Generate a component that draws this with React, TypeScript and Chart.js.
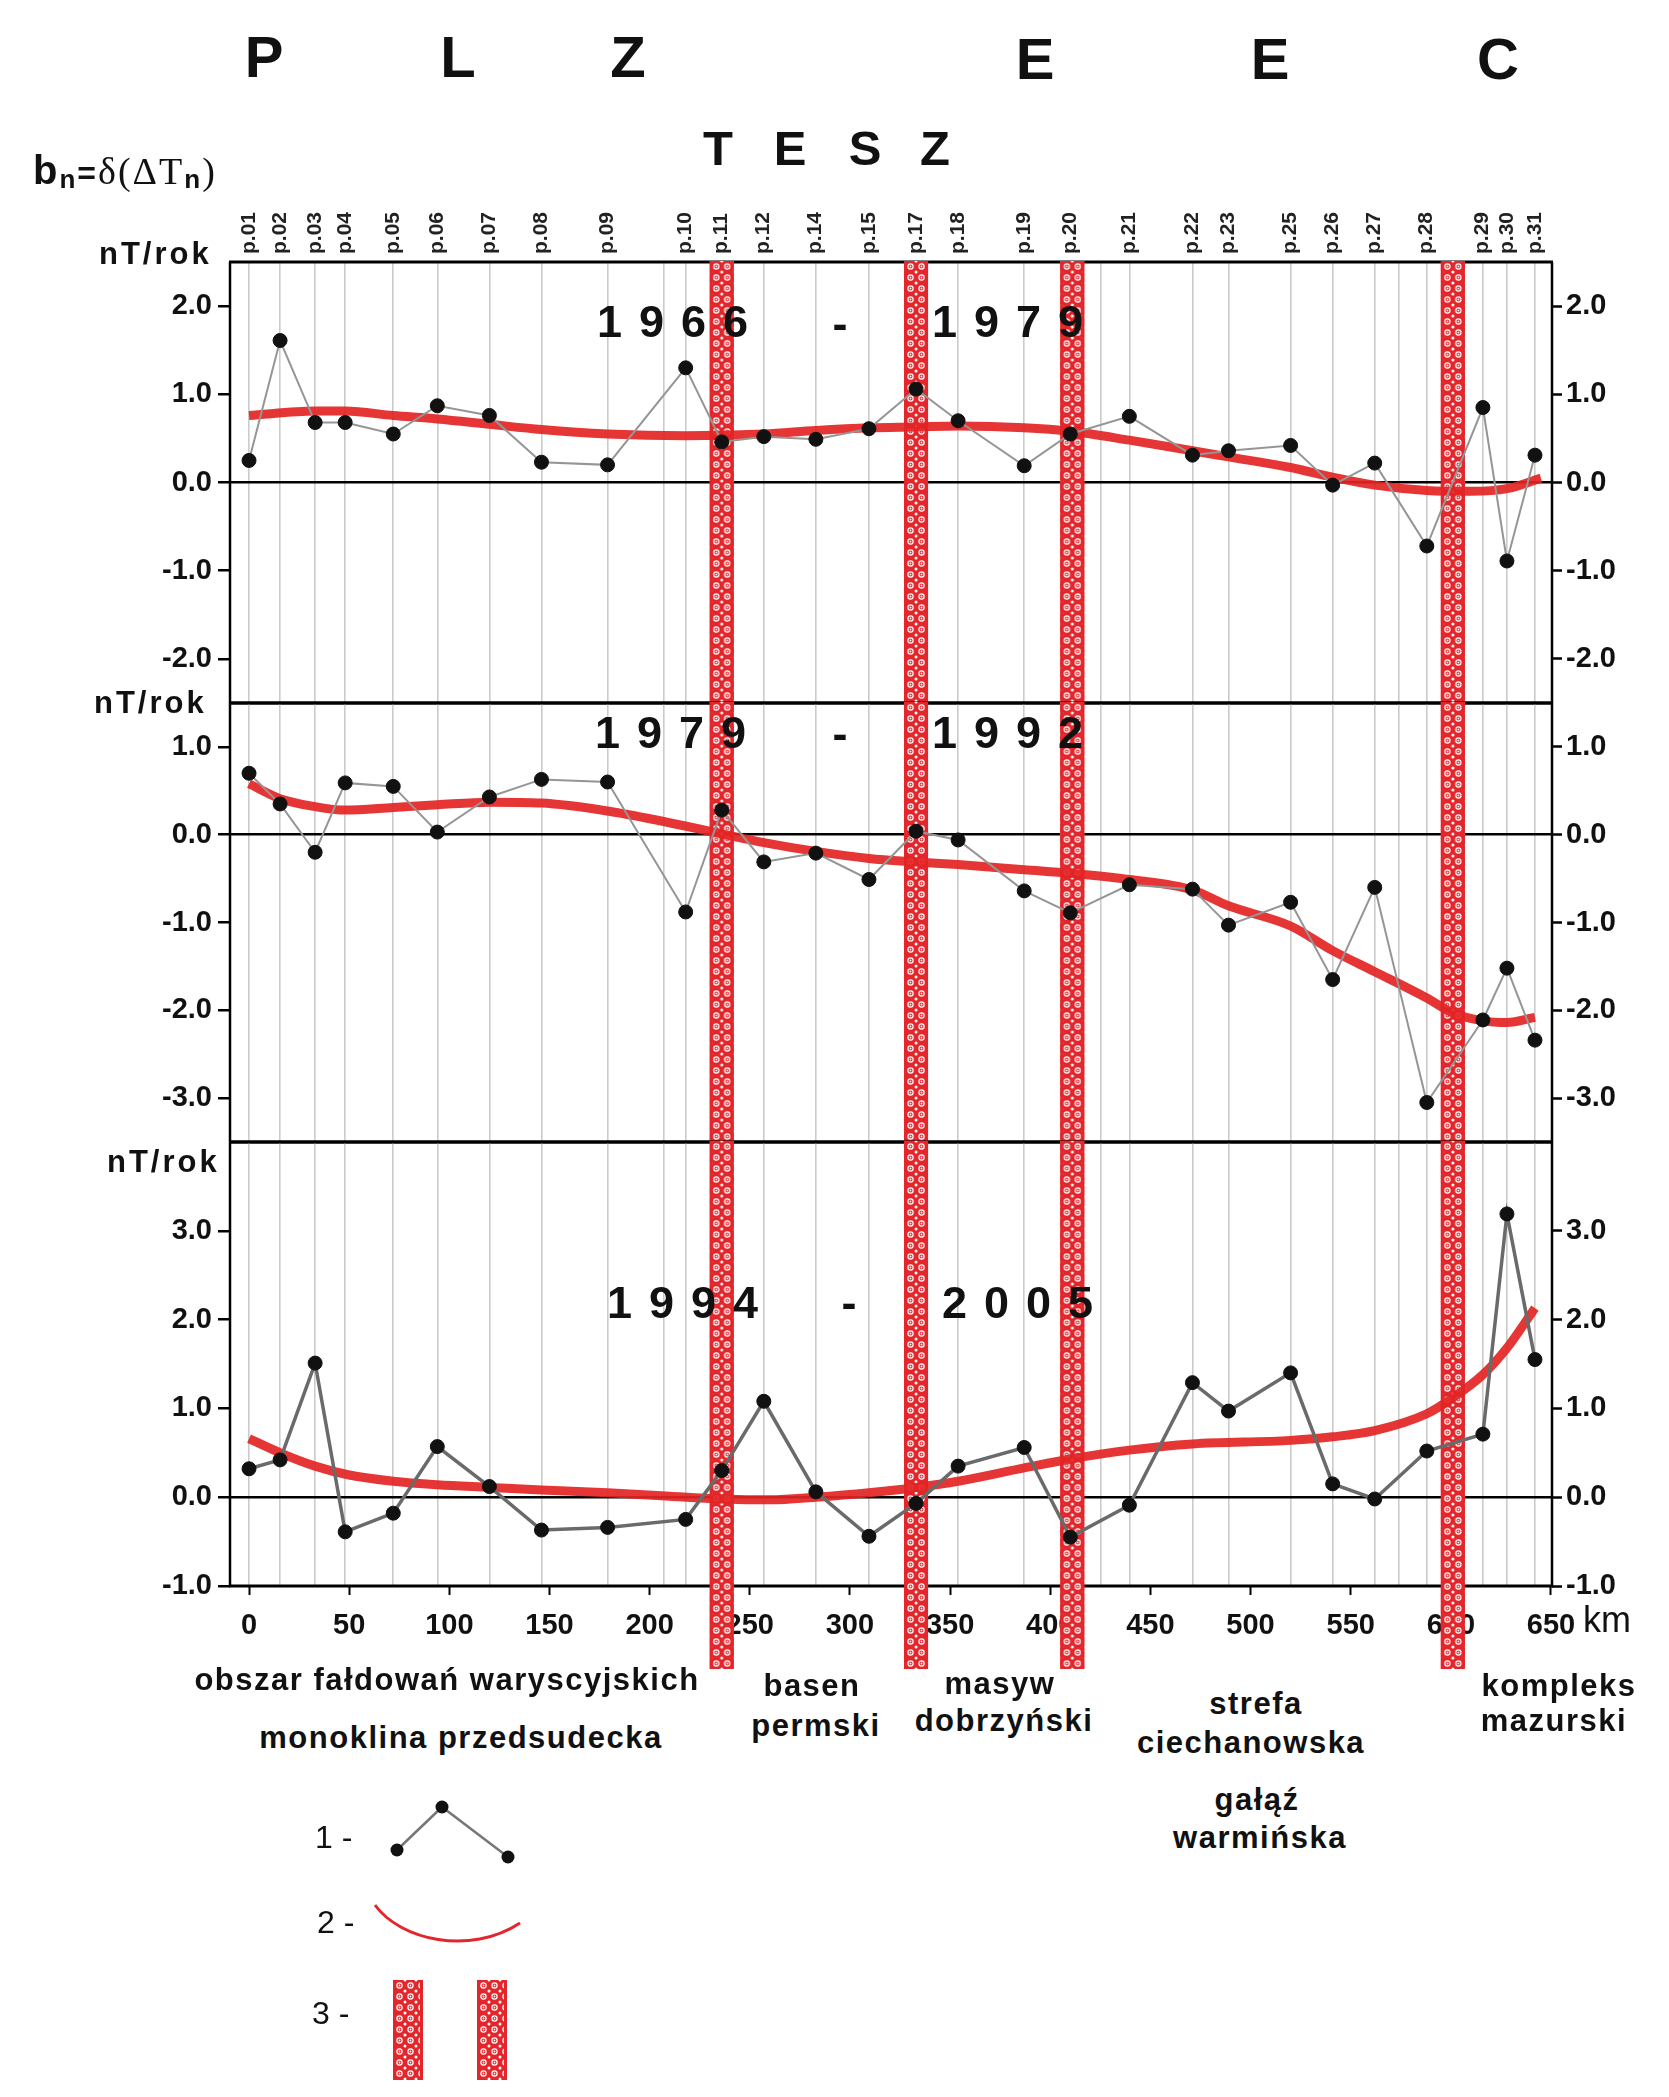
import React, { useEffect, useRef } from 'react';
import { Chart, registerables } from 'chart.js';

Chart.register(...registerables);

const FONT = "'Liberation Sans', Arial, Helvetica, sans-serif";
const SERIF = "'Liberation Serif', 'Times New Roman', serif";
const PAGE_W = 1669;
const PAGE_H = 2097;
const RED = '#e3262b';

// ---------------- data ----------------
const stationNames = ['p.01', 'p.02', 'p.03', 'p.04', 'p.05', 'p.06', 'p.07', 'p.08', 'p.09', 'p.10', 'p.11', 'p.12', 'p.14', 'p.15', 'p.17', 'p.18', 'p.19', 'p.20', 'p.21', 'p.22', 'p.23', 'p.25', 'p.26', 'p.27', 'p.28', 'p.29', 'p.30', 'p.31'];
const stationKm = [0, 15.5, 33, 48, 72, 94, 120, 146, 179, 218, 236, 257, 283, 309.5, 333, 354, 387, 410, 439.5, 471, 489, 520, 541, 562, 588, 616, 628, 642];
const extraGridKm = [207, 425, 574];
const kmTicks = [0, 50, 100, 150, 200, 250, 300, 350, 400, 450, 500, 550, 600, 650];
const bandKm = [236, 333, 411, 601];

const valuesA = [0.25, 1.61, 0.68, 0.68, 0.55, 0.87, 0.76, 0.23, 0.2, 1.3, 0.46, 0.52, 0.49, 0.61, 1.06, 0.7, 0.19, 0.55, 0.75, 0.31, 0.36, 0.42, -0.03, 0.22, -0.72, 0.85, -0.89, 0.31];
const valuesB = [0.7, 0.35, -0.2, 0.59, 0.55, 0.03, 0.43, 0.63, 0.6, -0.88, 0.28, -0.31, -0.21, -0.51, 0.04, -0.06, -0.64, -0.89, -0.57, -0.62, -1.03, -0.77, -1.65, -0.6, -3.05, -2.11, -1.52, -2.34];
const valuesC = [0.32, 0.42, 1.51, -0.39, -0.18, 0.57, 0.12, -0.37, -0.34, -0.25, 0.3, 1.08, 0.06, -0.44, -0.07, 0.35, 0.56, -0.45, -0.09, 1.29, 0.97, 1.4, 0.15, -0.02, 0.52, 0.71, 3.19, 1.55];

const trendKmA = [0, 33, 48, 72, 94, 120, 146, 179, 218, 257, 283, 309.5, 333, 354, 387, 410, 439.5, 471, 489, 520, 541, 562, 588, 610, 628, 645];
const trendA = [0.76, 0.81, 0.81, 0.76, 0.72, 0.66, 0.6, 0.55, 0.53, 0.55, 0.59, 0.62, 0.63, 0.64, 0.62, 0.58, 0.48, 0.36, 0.29, 0.17, 0.06, -0.03, -0.09, -0.1, -0.07, 0.05];

const trendKmB = [0, 15.5, 33, 48, 72, 94, 120, 146, 179, 207, 236, 257, 283, 309.5, 333, 354, 387, 410, 439.5, 471, 489, 520, 541, 562, 588, 601, 616, 628, 642];
const trendB = [0.58, 0.41, 0.32, 0.28, 0.31, 0.34, 0.37, 0.36, 0.27, 0.15, 0.01, -0.09, -0.19, -0.27, -0.31, -0.34, -0.4, -0.44, -0.51, -0.63, -0.81, -1.04, -1.32, -1.56, -1.86, -2.03, -2.12, -2.14, -2.08];

const trendKmC = [0, 15.5, 33, 50, 72, 94, 120, 146, 179, 210, 236, 260, 283, 309.5, 333, 354, 387, 410, 439.5, 471, 520, 541, 562, 588, 601, 616, 628, 642];
const trendC = [0.66, 0.5, 0.35, 0.25, 0.18, 0.14, 0.11, 0.08, 0.05, 0.01, -0.02, -0.03, 0.0, 0.05, 0.11, 0.18, 0.33, 0.43, 0.53, 0.6, 0.64, 0.68, 0.75, 0.94, 1.12, 1.38, 1.68, 2.13];

const ticksA = [-2, -1, 0, 1, 2];
const ticksB = [-3, -2, -1, 0, 1];
const ticksC = [-1, 0, 1, 2, 3];

// ---------------- helpers ----------------
const X_MIN = -9.5;
const X_MAX = 650.5;
const BAND_HALF_KM = 6;

function makeBandPattern(ctx: CanvasRenderingContext2D) {
  const c = document.createElement('canvas');
  c.width = 11;
  c.height = 11;
  const g = c.getContext('2d')!;
  g.fillStyle = RED;
  g.fillRect(0, 0, 11, 11);
  g.strokeStyle = '#ffffff';
  g.fillStyle = '#ffffff';
  g.lineWidth = 1.2;
  g.beginPath();
  g.arc(5.5, 5.5, 2.6, 0, Math.PI * 2);
  g.stroke();
  g.beginPath();
  g.arc(5.5, 5.5, 0.9, 0, Math.PI * 2);
  g.fill();
  for (const [cx, cy] of [[0, 0], [11, 0], [0, 11], [11, 11]]) {
    g.beginPath();
    g.arc(cx, cy, 1.5, 0, Math.PI * 2);
    g.fill();
  }
  return ctx.createPattern(c, 'repeat')!;
}

function drawBand(ctx: CanvasRenderingContext2D, x0: number, x1: number, y0: number, y1: number) {
  const pat = makeBandPattern(ctx);
  ctx.save();
  ctx.translate(x0 + 1, y0);
  ctx.fillStyle = pat;
  ctx.fillRect(-1, 0, x1 - x0, y1 - y0);
  ctx.restore();
  ctx.fillStyle = RED;
  ctx.fillRect(x0, y0, 3, y1 - y0);
  ctx.fillRect(x1 - 3, y0, 3, y1 - y0);
}

const frameBandsPlugin = {
  id: 'frameBands',
  beforeDatasetsDraw(chart: any, _args: any, opts: any) {
    const { ctx, chartArea: a } = chart;
    const xs = chart.scales.x;
    ctx.save();
    ctx.strokeStyle = '#000';
    ctx.lineWidth = 3;
    ctx.beginPath();
    ctx.moveTo(a.left - 1, a.top);
    ctx.lineTo(a.right + 1, a.top);
    ctx.moveTo(a.left - 1, a.bottom);
    ctx.lineTo(a.right + 1, a.bottom);
    ctx.stroke();
    ctx.lineWidth = 2.5;
    ctx.beginPath();
    ctx.moveTo(a.left, a.top);
    ctx.lineTo(a.left, a.bottom);
    ctx.moveTo(a.right, a.top);
    ctx.lineTo(a.right, a.bottom);
    ctx.stroke();
    const extend = (opts && opts.extend) || 0;
    for (const km of bandKm) {
      const x0 = xs.getPixelForValue(km - BAND_HALF_KM);
      const x1 = xs.getPixelForValue(km + BAND_HALF_KM);
      drawBand(ctx, x0, x1, a.top - 1, a.bottom + extend);
    }
    ctx.restore();
  },
};

interface PanelSpec {
  top: number;
  height: number;
  padTop: number;
  padBottom: number;
  stationAxisH: number;
  showStations: boolean;
  showKm: boolean;
  bandExtend: number;
  yMin: number;
  yMax: number;
  yTicks: number[];
  values: number[];
  trendKm: number[];
  trend: number[];
  lineColor: string;
  lineWidth: number;
}

function buildConfig(p: PanelSpec): any {
  const tickFont = { family: FONT, size: 29, weight: 'bold' as const };
  const allStations = [...stationKm, ...extraGridKm].sort((a, b) => a - b);
  return {
    type: 'line',
    data: {
      datasets: [
        {
          label: 'bn',
          data: stationKm.map((x, i) => ({ x, y: p.values[i] })),
          borderColor: p.lineColor,
          borderWidth: p.lineWidth,
          pointRadius: 7,
          pointBackgroundColor: '#111',
          pointBorderColor: '#111',
          pointBorderWidth: 1,
          tension: 0,
          xAxisID: 'x',
          yAxisID: 'y',
        },
        {
          label: 'trend',
          data: p.trendKm.map((x, i) => ({ x, y: p.trend[i] })),
          borderColor: 'rgba(227,36,36,0.92)',
          borderWidth: 9,
          pointRadius: 0,
          cubicInterpolationMode: 'monotone',
          xAxisID: 'x',
          yAxisID: 'y',
        },
      ],
    },
    options: {
      responsive: false,
      animation: false,
      devicePixelRatio: 1,
      events: [],
      layout: { padding: { left: 0, right: 0, top: p.padTop, bottom: p.padBottom } },
      plugins: {
        legend: { display: false },
        tooltip: { enabled: false },
        frameBands: { extend: p.bandExtend },
      },
      scales: {
        x: {
          type: 'linear',
          position: 'bottom',
          min: X_MIN,
          max: X_MAX,
          display: p.showKm,
          afterBuildTicks: (s: any) => {
            s.ticks = kmTicks.map((v) => ({ value: v }));
          },
          afterFit: (s: any) => {
            s.height = p.showKm ? 94 : 0;
            s.paddingLeft = 0;
            s.paddingRight = 0;
          },
          grid: { drawOnChartArea: false, drawTicks: true, tickLength: 9, tickColor: '#000', tickWidth: 2, color: '#000' },
          border: { display: false },
          ticks: {
            autoSkip: false,
            maxRotation: 0,
            minRotation: 0,
            padding: 14,
            color: '#111',
            font: tickFont,
            callback: (v: any) => String(v),
          },
        },
        xs: {
          type: 'linear',
          position: 'top',
          min: X_MIN,
          max: X_MAX,
          afterBuildTicks: (s: any) => {
            s.ticks = allStations.map((v) => ({ value: v }));
          },
          afterFit: (s: any) => {
            s.height = p.stationAxisH;
            s.paddingLeft = 0;
            s.paddingRight = 0;
          },
          grid: { drawOnChartArea: true, drawTicks: false, color: '#cbcbcb', lineWidth: 1.6 },
          border: { display: false },
          ticks: {
            display: p.showStations,
            autoSkip: false,
            minRotation: 90,
            maxRotation: 90,
            padding: 8,
            labelOffset: 25,
            color: '#222',
            font: { family: FONT, size: 21, weight: 'bold' as const, lineHeight: 1.2 },
            callback: (v: any) => {
              const i = stationKm.indexOf(Number(v));
              return i >= 0 ? stationNames[i] : '';
            },
          },
        },
        y: {
          type: 'linear',
          position: 'left',
          min: p.yMin,
          max: p.yMax,
          afterBuildTicks: (s: any) => {
            s.ticks = p.yTicks.map((v) => ({ value: v }));
          },
          afterFit: (s: any) => {
            s.width = 230;
            s.paddingTop = 0;
            s.paddingBottom = 0;
          },
          grid: {
            color: (c: any) => (c.tick && c.tick.value === 0 ? '#000' : 'rgba(0,0,0,0)'),
            lineWidth: 2.5,
            drawTicks: true,
            tickLength: 12,
            tickColor: '#000',
            tickWidth: 2.5,
          },
          border: { display: false },
          ticks: { padding: 6, color: '#111', font: tickFont, callback: (v: any) => Number(v).toFixed(1) },
        },
        yr: {
          type: 'linear',
          position: 'right',
          min: p.yMin,
          max: p.yMax,
          afterBuildTicks: (s: any) => {
            s.ticks = p.yTicks.map((v) => ({ value: v }));
          },
          afterFit: (s: any) => {
            s.width = PAGE_W - 1552;
            s.paddingTop = 0;
            s.paddingBottom = 0;
          },
          grid: { drawOnChartArea: false, drawTicks: true, tickLength: 10, tickColor: '#000', tickWidth: 2.5 },
          border: { display: false },
          ticks: { padding: 4, color: '#111', font: tickFont, callback: (v: any) => Number(v).toFixed(1) },
        },
      },
    },
    plugins: [frameBandsPlugin],
  };
}

function Panel({ spec }: { spec: PanelSpec }) {
  const ref = useRef<HTMLCanvasElement>(null);
  useEffect(() => {
    const chart = new Chart(ref.current as HTMLCanvasElement, buildConfig(spec));
    return () => chart.destroy();
  }, []);
  return (
    <canvas
      ref={ref}
      width={PAGE_W}
      height={spec.height}
      style={{ position: 'absolute', left: 0, top: spec.top, width: PAGE_W, height: spec.height }}
    />
  );
}

const LEG_LEFT = 300;
const LEG_TOP = 1780;
const legendPlugin = {
  id: 'legendGlyphs',
  afterDraw(chart: any) {
    const ctx: CanvasRenderingContext2D = chart.ctx;
    ctx.save();
    // 1: polyline with markers
    const pts = [[97, 70], [142, 27], [208, 77]];
    ctx.strokeStyle = '#777';
    ctx.lineWidth = 2.5;
    ctx.beginPath();
    pts.forEach(([x, y], i) => (i ? ctx.lineTo(x, y) : ctx.moveTo(x, y)));
    ctx.stroke();
    ctx.fillStyle = '#111';
    for (const [x, y] of pts) {
      ctx.beginPath();
      ctx.arc(x, y, 6.5, 0, Math.PI * 2);
      ctx.fill();
    }
    // 2: red curve
    ctx.strokeStyle = RED;
    ctx.lineWidth = 3;
    ctx.beginPath();
    ctx.moveTo(75, 125);
    ctx.bezierCurveTo(100, 160, 170, 176, 220, 143);
    ctx.stroke();
    // 3: band swatches
    drawBand(ctx, 93, 123, 200, 300);
    drawBand(ctx, 177, 207, 200, 300);
    ctx.restore();
  },
};

function LegendCanvas() {
  const ref = useRef<HTMLCanvasElement>(null);
  useEffect(() => {
    const chart = new Chart(ref.current as HTMLCanvasElement, {
      type: 'line',
      data: { datasets: [] },
      options: {
        responsive: false,
        animation: false,
        devicePixelRatio: 1,
        events: [],
        plugins: { legend: { display: false }, tooltip: { enabled: false } },
        scales: { x: { display: false }, y: { display: false } },
      },
      plugins: [legendPlugin],
    } as any);
    return () => chart.destroy();
  }, []);
  return (
    <canvas
      ref={ref}
      width={260}
      height={310}
      style={{ position: 'absolute', left: LEG_LEFT, top: LEG_TOP, width: 260, height: 310 }}
    />
  );
}

function T(props: {
  x: number;
  y: number;
  s: number;
  w?: number;
  align?: 'left' | 'center';
  ls?: number;
  fam?: string;
  children: React.ReactNode;
}) {
  const { x, y, s, w = 700, align = 'center', ls = 0, fam = FONT, children } = props;
  const tx = align === 'center' ? '-50%' : '0';
  return (
    <div
      style={{
        position: 'absolute',
        left: x,
        top: y,
        transform: `translate(${tx}, -50%)`,
        fontSize: s,
        fontWeight: w,
        letterSpacing: ls,
        lineHeight: 1,
        whiteSpace: 'nowrap',
        fontFamily: fam,
        color: '#111',
      }}
    >
      {children}
    </div>
  );
}

const panelA: PanelSpec = {
  top: 190, height: 540, padTop: 0, padBottom: 27, stationAxisH: 72, showStations: true, showKm: false, bandExtend: 0,
  yMin: -2.5, yMax: 2.5, yTicks: ticksA, values: valuesA, trendKm: trendKmA, trend: trendA, lineColor: '#959595', lineWidth: 2,
};
const panelB: PanelSpec = {
  top: 676, height: 493, padTop: 27, padBottom: 27, stationAxisH: 0, showStations: false, showKm: false, bandExtend: 0,
  yMin: -3.5, yMax: 1.5, yTicks: ticksB, values: valuesB, trendKm: trendKmB, trend: trendB, lineColor: '#959595', lineWidth: 2,
};
const panelC: PanelSpec = {
  top: 1115, height: 565, padTop: 27, padBottom: 0, stationAxisH: 0, showStations: false, showKm: true, bandExtend: 83,
  yMin: -1, yMax: 4, yTicks: ticksC, values: valuesC, trendKm: trendKmC, trend: trendC, lineColor: '#6a6a6a', lineWidth: 3.5,
};

export default function App() {
  return (
    <div
      style={{
        position: 'absolute',
        left: 0,
        top: 0,
        width: PAGE_W,
        height: PAGE_H,
        overflow: 'hidden',
        background: '#fff',
        fontFamily: FONT,
      }}
    >
      <Panel spec={panelA} />
      <Panel spec={panelB} />
      <Panel spec={panelC} />
      <LegendCanvas />

      {/* big zone letters */}
      <T x={264} y={57} s={58}>P</T>
      <T x={458} y={57} s={58}>L</T>
      <T x={628} y={57} s={58}>Z</T>
      <T x={1035} y={59} s={58}>E</T>
      <T x={1270} y={59} s={58}>E</T>
      <T x={1498} y={59} s={58}>C</T>
      <T x={718} y={148} s={49}>T</T>
      <T x={790} y={148} s={49}>E</T>
      <T x={865} y={148} s={49}>S</T>
      <T x={935} y={148} s={49}>Z</T>

      {/* formula */}
      <div style={{ position: 'absolute', left: 33, top: 150, lineHeight: 1, whiteSpace: 'nowrap', color: '#111', letterSpacing: 2 }}>
        <span style={{ fontFamily: FONT, fontWeight: 700, fontSize: 40 }}>b</span>
        <sub style={{ fontFamily: FONT, fontWeight: 700, fontSize: 26 }}>n</sub>
        <span style={{ fontFamily: FONT, fontWeight: 700, fontSize: 32 }}>=</span>
        <span style={{ fontFamily: SERIF, fontSize: 38 }}>δ(ΔT</span>
        <sub style={{ fontFamily: FONT, fontWeight: 700, fontSize: 26 }}>n</sub>
        <span style={{ fontFamily: SERIF, fontSize: 38 }}>)</span>
      </div>

      {/* unit labels */}
      <T x={99} y={253} s={31} align="left" ls={3}>nT/rok</T>
      <T x={94} y={702} s={31} align="left" ls={3}>nT/rok</T>
      <T x={107} y={1161} s={31} align="left" ls={3}>nT/rok</T>

      {/* period labels */}
      <T x={597} y={321} s={45} align="left" ls={17}>1966</T>
      <T x={840} y={323} s={45}>-</T>
      <T x={932} y={321} s={45} align="left" ls={17}>1979</T>
      <T x={595} y={732} s={45} align="left" ls={17}>1979</T>
      <T x={840} y={733} s={45}>-</T>
      <T x={932} y={732} s={45} align="left" ls={17}>1992</T>
      <T x={607} y={1302} s={45} align="left" ls={17}>1994</T>
      <T x={849} y={1302} s={45}>-</T>
      <T x={942} y={1302} s={45} align="left" ls={17}>2005</T>

      {/* km */}
      <T x={1583} y={1620} s={36} w={400} align="left">km</T>

      {/* region names */}
      <T x={447} y={1679} s={31} ls={1.5}>obszar fałdowań waryscyjskich</T>
      <T x={461} y={1737} s={31} ls={1.5}>monoklina przedsudecka</T>
      <T x={812} y={1685} s={31} ls={1.5}>basen</T>
      <T x={816} y={1725} s={31} ls={1.5}>permski</T>
      <T x={1000} y={1683} s={31} ls={1.5}>masyw</T>
      <T x={1004} y={1720} s={31} ls={1.5}>dobrzyński</T>
      <T x={1256} y={1703} s={31} ls={1.5}>strefa</T>
      <T x={1251} y={1742} s={31} ls={1.5}>ciechanowska</T>
      <T x={1257} y={1799} s={31} ls={1.5}>gałąź</T>
      <T x={1260} y={1837} s={31} ls={1.5}>warmińska</T>
      <T x={1559} y={1685} s={31} ls={1.5}>kompleks</T>
      <T x={1554} y={1720} s={31} ls={1.5}>mazurski</T>

      {/* legend numbers */}
      <T x={315} y={1837} s={32} w={400} align="left">1 -</T>
      <T x={317} y={1922} s={32} w={400} align="left">2 -</T>
      <T x={312} y={2013} s={32} w={400} align="left">3 -</T>
    </div>
  );
}
